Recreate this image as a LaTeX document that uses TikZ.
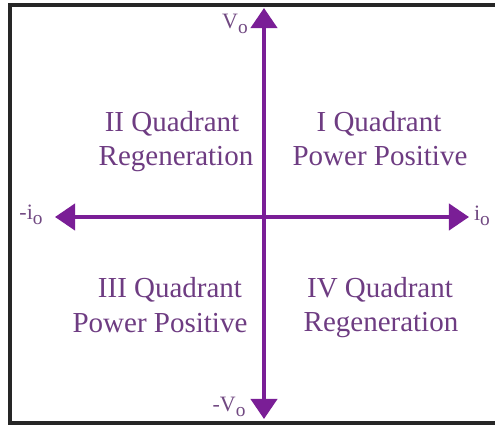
\documentclass[tikz,border=0pt]{standalone}
\usepackage{fontspec}
\setmainfont{Liberation Serif}
\usetikzlibrary{arrows.meta}
\definecolor{axpurple}{HTML}{7A1E96}
\definecolor{txpurple}{HTML}{6E3C82}
\tikzset{
  axis/.style={line width=2.2pt, draw=axpurple,
               {Triangle[length=11.5pt,width=15pt]}-{Triangle[length=11.5pt,width=15pt]}},
  quad/.style={anchor=base, text=txpurple, font=\fontsize{16.5}{20}\selectfont, inner sep=0pt},
  axlab/.style={text=txpurple!80!gray, font=\fontsize{12.5}{15}\selectfont, inner sep=0pt},
  frame/.style={line width=1.8pt, draw=black!85},
}
\newcommand{\sub}[1]{\raisebox{-0.45ex}{\fontsize{11}{12}\selectfont #1}}

\begin{document}
\begin{tikzpicture}[x=0.02cm, y=-0.02cm]
  \useasboundingbox (0,0) rectangle (495,425);
  % open frame, right side cut off
  \draw[frame] (495,5) -- (10,5) -- (10,423) -- (495,423);
  % axes
  \coordinate (vtop) at (264,8);
  \coordinate (vbot) at (264,419);
  \coordinate (ileft) at (55,217);
  \coordinate (iright) at (469,217);
  \draw[axis] (vbot) -- (vtop);
  \draw[axis] (ileft) -- (iright);
  % axis labels
  \node[axlab] (vo) at (235,24) {V\sub{o}};
  \node[axlab] (mvo) at (229,407) {-V\sub{o}};
  \node[axlab] (mio) at (31,215) {-i\sub{o}};
  \node[axlab] (io) at (482,216) {i\sub{o}};
  % quadrants, one node per line
  \node[quad] (q1a) at (379,132) {I Quadrant};
  \node[quad] (q1b) at (380,166) {Power Positive};
  \node[quad] (q2a) at (172,132) {II Quadrant};
  \node[quad] (q2b) at (176,166) {Regeneration};
  \node[quad] (q3a) at (170,298) {III Quadrant};
  \node[quad] (q3b) at (160,333) {Power Positive};
  \node[quad] (q4a) at (380,298) {IV Quadrant};
  \node[quad] (q4b) at (381,332) {Regeneration};
\end{tikzpicture}
\end{document}
